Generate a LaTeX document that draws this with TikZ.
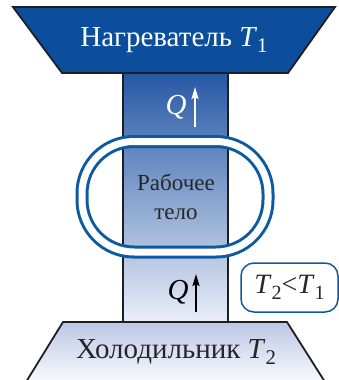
\documentclass[tikz,border=0pt]{standalone}
\usepackage{fontspec}
\setmainfont{Liberation Serif}
\usetikzlibrary{arrows.meta}
\definecolor{heat}{RGB}{12,78,155}
\definecolor{ringblue}{RGB}{14,90,160}
\definecolor{colA}{RGB}{38,88,165}
\definecolor{colB}{RGB}{234,238,249}
\definecolor{coldA}{RGB}{188,198,230}
\definecolor{coldB}{RGB}{250,251,254}
\definecolor{edgec}{RGB}{30,30,35}
\newcommand\subidx[1]{\raisebox{-0.22em}{\fontsize{0.72em}{1em}\selectfont #1}}
\tikzset{
  edge/.style={draw=edgec, line width=1.8pt, line join=miter},
  bigtext/.style={font=\fontsize{29}{34}\selectfont, inner sep=0pt},
  midtext/.style={font=\fontsize{23}{28}\selectfont, inner sep=0pt, align=center, text=black!85},
  qtext/.style={font=\fontsize{29}{34}\selectfont\itshape, inner sep=0pt},
  qarrow/.style={line width=2pt, -{Stealth[length=12pt, width=7pt, inset=2pt]}},
}
\begin{document}
\begin{tikzpicture}[x=1pt, y=-1pt]
\useasboundingbox (0,0) rectangle (339,380);
% column
\draw[edge, top color=colA, bottom color=colB] (123,73) rectangle (228,322);
% cooler
\fill[top color=coldA, bottom color=coldB] (63,322) -- (287,322) -- (325,382) -- (26,382) -- cycle;
\draw[edge] (26,382) -- (63,322) -- (287,322) -- (325,382);
% heater
\draw[edge, fill=heat] (13,7) -- (335,7) -- (288,73) -- (62,73) -- cycle;
% ring
\draw[draw=ringblue, line width=13pt, rounded corners=52pt] (82,141.5) rectangle (268,252);
\draw[draw=white, line width=7pt, rounded corners=52pt] (82,141.5) rectangle (268,252);
% texts
\node[bigtext, text=white] (heater) at (174,40) {Нагреватель \textit{T}\subidx{1}};
\node[bigtext, text=black!85] (cooler) at (176,352) {Холодильник \textit{T}\subidx{2}};
\node[midtext] (body) at (176,197) {Рабочее\\[1pt]тело};
\node[qtext, text=white] (q1) at (176,107) {Q};
\node[qtext, text=black] (q2) at (178,292) {Q};
\coordinate (a1s) at (195,127);
\coordinate (a1e) at (195,87);
\coordinate (a2s) at (196,312);
\coordinate (a2e) at (196,274);
\draw[qarrow, white] (a1s) -- (a1e);
\draw[qarrow, black] (a2s) -- (a2e);
\node[draw=ringblue, line width=1.5pt, rounded corners=13pt, minimum width=97pt, minimum height=49pt, font=\fontsize{28}{32}\selectfont, text=black!85, inner sep=0pt] (cmp) at (289.5,287.5) {\textit{T}\subidx{2}<\textit{T}\subidx{1}};
\end{tikzpicture}
\end{document}
